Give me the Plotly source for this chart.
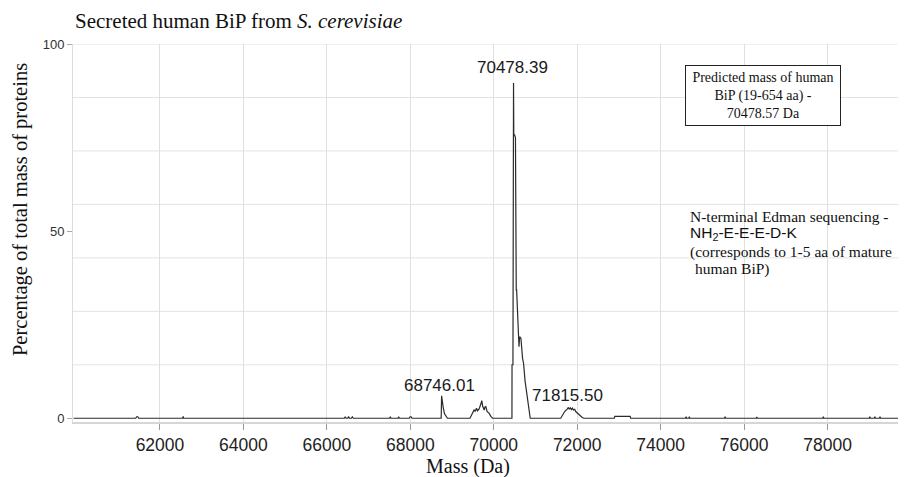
import plotly.graph_objects as go

# ---- data ----
mass = [
    59930, 61420, 61440, 61470, 61490,
    62545, 62556, 62567,
    66420, 66440, 66460, 66500, 66520, 66540, 66590, 66610, 66635,
    67505, 67521, 67537, 67705, 67720, 67735,
    67975, 67995, 68020, 68040,
    68740, 68750, 68760, 68790, 68820, 68860, 68890,
    69430, 69480, 69529, 69555, 69587, 69610, 69650, 69690, 69713, 69735,
    69770, 69790, 69810, 69840, 69890, 69930, 69970,
    70436, 70438, 70460, 70462, 70474, 70480, 70498, 70520, 70523, 70535,
    70539, 70548, 70594, 70605, 70620, 70651, 70690, 70714, 70750, 70795,
    70815, 70835, 70874,
    71605, 71650, 71700, 71765, 71790, 71810, 71835, 71860, 71885, 71910,
    71940, 71964, 72050, 72120, 72163,
    72890, 72900, 73000, 73100, 73200, 73270, 73280,
    74595, 74611, 74625, 74675, 74688, 74700,
    75530, 75545, 75560, 76290, 76304, 76318, 77887, 77899, 77912,
    79000, 79013, 79026, 79120, 79135, 79150, 79245, 79257, 79270,
    79880,
]
pct = [
    0, 0, 0.4, 0.4, 0,
    0, 0.5, 0,
    0, 0.4, 0, 0, 0.5, 0, 0, 0.4, 0,
    0, 0.4, 0, 0, 0.4, 0,
    0, 0.4, 0.4, 0,
    0, 6.0, 5.0, 2.8, 1.2, 0.3, 0,
    0, 1.0, 2.2, 1.8, 2.7, 2.0, 2.5, 3.8, 4.7, 3.2,
    2.2, 3.0, 3.1, 1.8, 1.3, 0.5, 0,
    0, 14.3, 14.3, 89.6, 89.6, 75.7, 75.7, 75.0, 52.6, 52.6,
    34.3, 34.3, 22.7, 19.1, 21.8, 21.4, 16.0, 14.7, 10.0, 6.7,
    5.0, 3.0, 0,
    0, 1.0, 1.8, 2.5, 2.9, 2.4, 2.8, 2.3, 2.7, 2.2,
    2.4, 1.8, 0.8, 0.2, 0,
    0, 0.5, 0.5, 0.4, 0.5, 0.5, 0,
    0, 0.4, 0, 0, 0.4, 0,
    0, 0.4, 0, 0, 0.3, 0, 0, 0.4, 0,
    0, 0.4, 0, 0, 0.4, 0, 0, 0.4, 0,
    0,
]

x_ticks = [62000, 64000, 66000, 68000, 70000, 72000, 74000, 76000, 78000]
y_ticks = [0, 50, 100]
grid_levels = [k * 100 / 7 for k in range(1, 8)]

peak_masses = [70443, 68695, 71760]
peak_heights = [93.8, 8.8, 6.1]
peak_labels = ["70478.39", "68746.01", "71815.50"]

SERIF = "Liberation Serif, Times New Roman, serif"
SANS = "Liberation Sans, Arial, Helvetica, sans-serif"

fig = go.Figure()
fig.add_trace(go.Scatter(
    x=mass, y=pct, mode="lines",
    line=dict(color="#2b2b2b", width=1.2),
    showlegend=False, hoverinfo="x+y",
))

shapes = [
    dict(type="line", xref="paper", x0=0, x1=1, yref="y", y0=g, y1=g,
         line=dict(color="#e3e3e3", width=1), layer="below")
    for g in grid_levels
]

annotations = []
for m, h, t in zip(peak_masses, peak_heights, peak_labels):
    annotations.append(dict(x=m, y=h, xref="x", yref="y", text=t, showarrow=False,
                            xanchor="center", yanchor="middle",
                            font=dict(family=SANS, size=17, color="#1a1a1a")))

annotations += [
    dict(x=0.0006, y=1.0608, xref="paper", yref="paper", xanchor="left", yanchor="middle",
         text="Secreted human BiP from <i>S. cerevisiae</i>", showarrow=False,
         font=dict(family=SERIF, size=21, color="#111")),
    dict(x=-0.0636, y=0.5608, xref="paper", yref="paper", xanchor="center", yanchor="middle",
         text="Percentage of total mass of proteins", textangle=-90, showarrow=False,
         font=dict(family=SERIF, size=20.5, color="#111")),
    dict(x=0.4745, y=-0.119, xref="paper", yref="paper", xanchor="center", yanchor="middle",
         text="Mass (Da)", showarrow=False,
         font=dict(family=SERIF, size=20, color="#111")),
    dict(x=0.8284, y=0.8638, xref="paper", yref="paper", xanchor="center", yanchor="middle",
         text="Predicted mass of human<br>BiP (19-654 aa) -<br>70478.57 Da", showarrow=False,
         align="center", bordercolor="#222", borderwidth=1, borderpad=2,
         width=150, height=55, bgcolor="white",
         font=dict(family=SERIF, size=14, color="#111")),
    dict(x=0.7385, y=0.5431, xref="paper", yref="paper", xanchor="left", yanchor="middle",
         text="N-terminal Edman sequencing -", showarrow=False,
         font=dict(family=SERIF, size=15.5, color="#111")),
    dict(x=0.7385, y=0.4974, xref="paper", yref="paper", xanchor="left", yanchor="middle",
         text="NH<sub>2</sub>-E-E-E-D-K", showarrow=False,
         font=dict(family=SANS, size=15.5, color="#111")),
    dict(x=0.7385, y=0.4505, xref="paper", yref="paper", xanchor="left", yanchor="middle",
         text="(corresponds to 1-5 aa of mature", showarrow=False,
         font=dict(family=SERIF, size=15.5, color="#111")),
    dict(x=0.7445, y=0.4040, xref="paper", yref="paper", xanchor="left", yanchor="middle",
         text="human BiP)", showarrow=False,
         font=dict(family=SERIF, size=15.5, color="#111")),
]

# page body has an 8px margin, so the figure is 8px smaller than the window
fig.update_layout(
    width=898, height=469,
    margin=dict(l=64.5, r=0, t=36, b=55),
    paper_bgcolor="white", plot_bgcolor="white",
    shapes=shapes, annotations=annotations,
    xaxis=dict(
        range=[59916, 79880], tickvals=x_ticks,
        ticktext=[str(v) for v in x_ticks],
        showgrid=True, gridcolor="#e0e0e0", gridwidth=1, zeroline=False,
        showline=True, linecolor="#d6d6d6", linewidth=2,
        ticks="outside", ticklen=6, tickcolor="#9a9a9a", tickwidth=1,
        tickfont=dict(family=SANS, size=17.5, color="#222"),
    ),
    yaxis=dict(
        range=[-1, 100], tickvals=y_ticks,
        ticktext=[str(v) for v in y_ticks],
        showgrid=False, zeroline=False,
        showline=True, linecolor="#dcdcdc", linewidth=1,
        ticks="outside", ticklen=5, tickcolor="#aaaaaa", tickwidth=1,
        tickfont=dict(family=SANS, size=13, color="#333"),
    ),
)

fig.write_html("out.html")
